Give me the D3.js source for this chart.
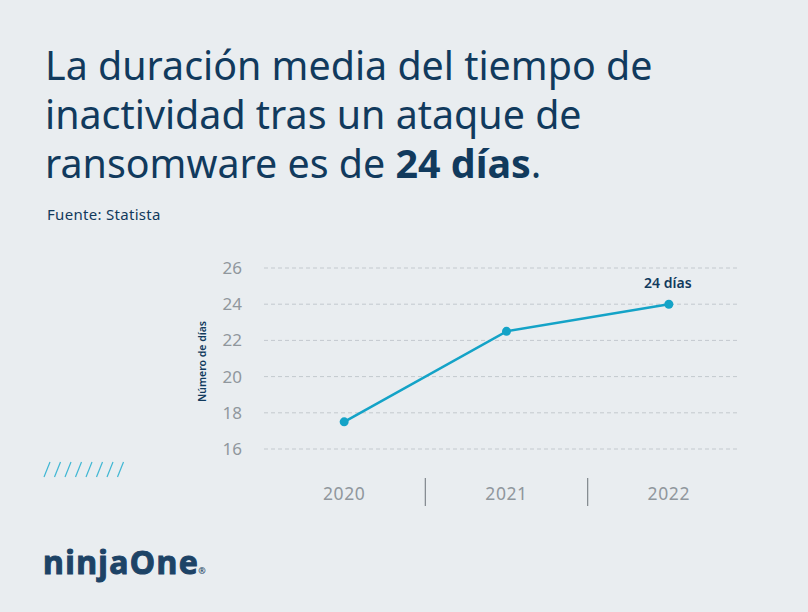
<!DOCTYPE html>
<html lang="es">
<head>
  <meta charset="UTF-8">
  <title>Tiempo de inactividad tras ransomware</title>
  <script src="https://cdn.jsdelivr.net/npm/d3@7/dist/d3.min.js"></script>
  <style>
    html, body { margin: 0; padding: 0; background: #e9edf0; }
    svg { display: block; font-family: "Noto Sans", sans-serif; }
  </style>
</head>
<body>
  <div id="chart"></div>
  <script>
    // Data
    const years = ['2020', '2021', '2022'];
    const days = [17.5, 22.5, 24];
    const yTicks = [16, 18, 20, 22, 24, 26];
    const titleLines = [
      [{ t: 'La duración media del tiempo de' }],
      [{ t: 'inactividad tras un ataque de' }],
      [{ t: 'ransomware es de ' }, { t: '24 días', b: true }, { t: '.' }]
    ];

    const W = 808, H = 612;
    const navy = '#113a5d';
    const blue = '#14a3c7';

    const svg = d3.select('#chart').append('svg')
      .attr('width', W).attr('height', H);

    svg.append('rect').attr('width', W).attr('height', H).attr('fill', '#e9edf0');

    // Title
    const title = svg.append('text')
      .attr('x', 45).attr('y', 80)
      .attr('font-size', 39.4).attr('fill', navy);
    titleLines.forEach((line, i) => {
      line.forEach((seg, j) => {
        const ts = title.append('tspan').text(seg.t)
          .attr('font-weight', seg.b ? 700 : 400);
        if (j === 0) ts.attr('x', 45).attr('dy', i === 0 ? 0 : 49);
      });
    });

    svg.append('text')
      .attr('x', 47).attr('y', 220)
      .attr('font-size', 15).attr('fill', navy)
      .attr('letter-spacing', 0.3)
      .text('Fuente: Statista');

    // Scales
    const x = d3.scaleBand().domain(years).range([263, 750]);
    const y = d3.scaleLinear().domain([16, 26]).range([449, 268]);
    const gridX0 = 264, gridX1 = 738;

    // Gridlines
    svg.append('g').selectAll('line').data(yTicks).join('line')
      .attr('x1', gridX0).attr('x2', gridX1)
      .attr('y1', d => y(d)).attr('y2', d => y(d))
      .attr('stroke', '#c3c9ce').attr('stroke-width', 1)
      .attr('stroke-dasharray', '4,3');

    // Y axis labels
    const yAxis = svg.append('g')
      .attr('transform', `translate(${gridX0 - 22},0)`)
      .call(d3.axisLeft(y).tickValues(yTicks).tickSize(0).tickPadding(0));
    yAxis.select('.domain').remove();
    yAxis.selectAll('text')
      .attr('font-family', '"Noto Sans", sans-serif')
      .attr('font-size', 17).attr('fill', '#90979d');

    // Y axis title
    svg.append('text')
      .attr('transform', `translate(206,${y(21) + 3}) rotate(-90)`)
      .attr('text-anchor', 'middle')
      .attr('font-size', 10.5).attr('font-weight', 600).attr('fill', navy)
      .text('Número de días');

    // X axis labels
    const xAxis = svg.append('g')
      .attr('transform', 'translate(0,494)')
      .call(d3.axisBottom(x).tickSize(0).tickPadding(0));
    xAxis.select('.domain').remove();
    xAxis.selectAll('text')
      .attr('font-family', '"Noto Sans", sans-serif')
      .attr('font-size', 17.5).attr('fill', '#90979d')
      .attr('letter-spacing', 0.6)
      .attr('dy', '0.32em');

    // Separators between categories
    svg.append('g').selectAll('line').data(years.slice(1)).join('line')
      .attr('x1', d => x(d)).attr('x2', d => x(d))
      .attr('y1', 478).attr('y2', 506)
      .attr('stroke', '#7f868c').attr('stroke-width', 1.2);

    // Line
    const pts = years.map((yr, i) => ({ yr, v: days[i] }));
    const line = d3.line()
      .x(d => x(d.yr) + x.bandwidth() / 2)
      .y(d => y(d.v));
    svg.append('path').datum(pts)
      .attr('d', line)
      .attr('fill', 'none').attr('stroke', blue).attr('stroke-width', 2.5);

    svg.append('g').selectAll('circle').data(pts).join('circle')
      .attr('cx', d => x(d.yr) + x.bandwidth() / 2)
      .attr('cy', d => y(d.v))
      .attr('r', 4.5).attr('fill', blue);

    // Value label on last point
    const last = pts[pts.length - 1];
    svg.append('text')
      .attr('x', x(last.yr) + x.bandwidth() / 2 - 1)
      .attr('y', y(last.v) - 16)
      .attr('text-anchor', 'middle')
      .attr('font-size', 14).attr('font-weight', 600).attr('fill', navy)
      .text(`${last.v} días`);

    // Decorative slashes
    svg.append('g').selectAll('line').data(d3.range(8)).join('line')
      .attr('x1', d => 44 + d * 10.5).attr('x2', d => 50 + d * 10.5)
      .attr('y1', 477).attr('y2', 462)
      .attr('stroke', '#3fb6d3').attr('stroke-width', 1.2);

    // Logo
    const logo = svg.append('text')
      .attr('x', 43).attr('y', 574)
      .attr('font-size', 32).attr('font-weight', 700).attr('fill', '#1d4366')
      .attr('stroke', '#1d4366').attr('stroke-width', 1)
      .attr('letter-spacing', 1.4);
    logo.append('tspan').text('ninjaOne');
    logo.append('tspan').text('®').attr('font-size', 9).attr('dx', -1)
      .attr('stroke-width', 0);
  </script>
</body>
</html>
